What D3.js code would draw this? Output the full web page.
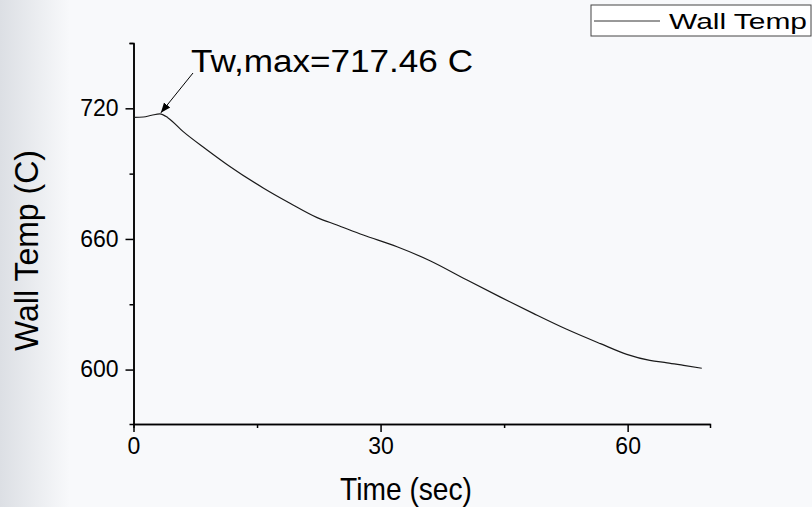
<!DOCTYPE html>
<html lang="en">
<head>
    <meta charset="UTF-8">
    <title>Wall Temp</title>
    <script src="https://d3js.org/d3.v7.min.js"></script>
    <style>
        body { margin: 0; background: #f8f9fb; }
        text { font-family: "Liberation Sans", Arial, sans-serif; fill: #000; }
    </style>
</head>
<body>
<script>
    // time (sec) and wall temperature (C)
    const timeSec = [0, 1.2, 2.2, 3.2, 4.2, 6.0, 8.9, 11.7, 15.8, 19.0, 22.3, 24.7, 27.9, 32.0, 36.0,
        40.5, 44.5, 48.6, 52.6, 56.7, 59.9, 62.7, 64.8, 66.8, 69.0]
    const wallTemp = [715.8, 716.0, 716.8, 717.46, 715.6, 709.4, 701.0, 693.3, 683.3, 676.4, 669.8, 666.4, 661.8, 656.4, 650.0,
        641.1, 633.4, 625.7, 618.5, 611.9, 607.0, 604.2, 603.1, 601.9, 600.6]

    const xMajor = [0, 30, 60]
    const xMinor = [15, 45]
    const yMajor = [600, 660, 720]
    const yMinor = [630, 690, 750]

    const peakTime = 3.2
    const peakTemp = 717.46

    const width = 812
    const height = 507

    const svg = d3.select("body")
        .append("svg")
        .attr("width", width)
        .attr("height", height)

    // grey band fading in from the left edge
    const grad = svg.append("defs").append("linearGradient")
        .attr("id", "leftFade")
        .attr("x1", "0").attr("x2", "1").attr("y1", "0").attr("y2", "0")
    grad.append("stop").attr("offset", "0").attr("stop-color", "#dcdfe4")
    grad.append("stop").attr("offset", "1").attr("stop-color", "#f8f9fb")

    svg.append("rect").attr("width", width).attr("height", height).attr("fill", "#f8f9fb")
    svg.append("rect").attr("width", 70).attr("height", height).attr("fill", "url(#leftFade)")

    const x = d3.scaleLinear().domain([0, 70]).range([133.5, 710])
    const y = d3.scaleLinear().domain([575, 750]).range([424, 43])

    const styleAxis = g => {
        g.select(".domain").attr("stroke", "#000").attr("stroke-width", 1.5)
        g.selectAll(".tick line").attr("stroke", "#000").attr("stroke-width", 1.5)
        g.selectAll(".tick text")
            .style("font-family", '"Liberation Sans", Arial, sans-serif')
            .style("font-size", "23px")
            .attr("fill", "#000")
    }

    // minor ticks first, then major on top
    svg.append("g")
        .attr("transform", `translate(0, ${y(575)})`)
        .call(d3.axisBottom(x).tickValues(xMinor).tickSize(4).tickFormat(""))
        .call(styleAxis)

    svg.append("g")
        .attr("transform", `translate(0, ${y(575)})`)
        .call(d3.axisBottom(x).tickValues(xMajor).tickSize(8).tickSizeOuter(0).tickPadding(6))
        .call(styleAxis)

    svg.append("g")
        .attr("transform", `translate(${x(0)}, 0)`)
        .call(d3.axisLeft(y).tickValues(yMinor).tickSize(4).tickFormat(""))
        .call(styleAxis)

    svg.append("g")
        .attr("transform", `translate(${x(0)}, 0)`)
        .call(d3.axisLeft(y).tickValues(yMajor).tickSize(8).tickSizeOuter(0).tickPadding(7))
        .call(styleAxis)

    // data line
    const line = d3.line()
        .x((d, i) => x(timeSec[i]))
        .y(d => y(d))
        .curve(d3.curveMonotoneX)

    svg.append("path")
        .datum(wallTemp)
        .attr("d", line)
        .attr("fill", "none")
        .attr("stroke", "#1a1a1a")
        .attr("stroke-width", 1.2)

    // axis titles
    svg.append("text")
        .attr("x", 340)
        .attr("y", 500)
        .attr("textLength", 132)
        .attr("lengthAdjust", "spacingAndGlyphs")
        .style("font-size", "32px")
        .text("Time (sec)")

    svg.append("text")
        .attr("transform", "translate(38, 351) rotate(-90)")
        .attr("textLength", 201)
        .attr("lengthAdjust", "spacingAndGlyphs")
        .style("font-size", "33px")
        .text("Wall Temp (C)")

    // annotation with arrow
    svg.append("defs").append("marker")
        .attr("id", "arrowHead")
        .attr("viewBox", "0 0 10 10")
        .attr("refX", 10).attr("refY", 5)
        .attr("markerWidth", 10).attr("markerHeight", 10)
        .attr("markerUnits", "userSpaceOnUse")
        .attr("orient", "auto")
        .append("path")
        .attr("d", "M0,1 L10,5 L0,9 Z")
        .attr("fill", "#000")

    svg.append("line")
        .attr("x1", 193).attr("y1", 73)
        .attr("x2", x(peakTime) + 1).attr("y2", y(peakTemp) - 1)
        .attr("stroke", "#000")
        .attr("stroke-width", 1)
        .attr("marker-end", "url(#arrowHead)")

    svg.append("text")
        .attr("x", 191)
        .attr("y", 72)
        .attr("textLength", 282)
        .attr("lengthAdjust", "spacingAndGlyphs")
        .style("font-size", "31px")
        .text(`Tw,max=${peakTemp} C`)

    // legend
    const legend = svg.append("g")
    legend.append("rect")
        .attr("x", 591).attr("y", 5)
        .attr("width", 220).attr("height", 31)
        .attr("fill", "#fff")
        .attr("stroke", "#444")
        .attr("stroke-width", 1)
    legend.append("line")
        .attr("x1", 594).attr("x2", 660)
        .attr("y1", 21).attr("y2", 21)
        .attr("stroke", "#333")
        .attr("stroke-width", 1)
    legend.append("text")
        .attr("x", 669)
        .attr("y", 29)
        .attr("textLength", 138)
        .attr("lengthAdjust", "spacingAndGlyphs")
        .style("font-size", "21.5px")
        .text("Wall Temp")
</script>
</body>
</html>
